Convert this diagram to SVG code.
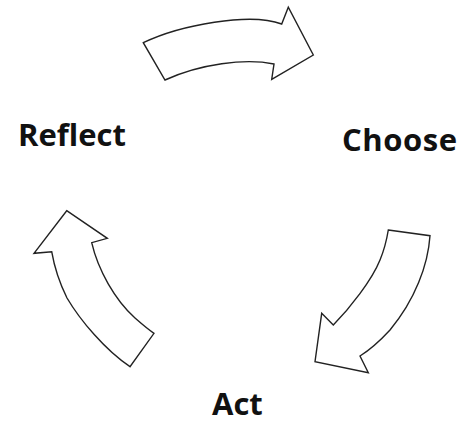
<svg xmlns="http://www.w3.org/2000/svg" width="462" height="424" viewBox="0 0 462 424">
<style>
.arrow{fill:#fff;stroke:#222;stroke-width:1.4;stroke-linejoin:miter}
.label{font-family:"Open Sans","Liberation Sans",sans-serif;font-weight:bold;font-size:31px;fill:#111}
</style>
<rect width="462" height="424" fill="#fff"/>
<g id="connectors">
<path id="arrow-top" class="arrow" d="M143.3,42.7 C180,25 250,12 281.7,24 L288.3,7.3 L313.3,55 L271.7,79.3 L274,64 C245,58 200,64 165,80 Z"/>
<path id="arrow-right" class="arrow" d="M388.3,230 L430,235.7 C428,265 415,300 390,330 C378,343 368,351 360,356 L368.3,372.7 L315,361.7 L321.7,313.3 L333.3,325 C350,308 372,280 380,260 C385,248 387,238 388.3,230 Z"/>
<path id="arrow-left" class="arrow" d="M66.7,210.7 L107.3,238.3 L91.7,242.7 C98,270 115,300 135,318 C143,325 149,330 154,333.3 L130,366.7 C105,350 80,320 67,298 C58,280 54,265 51.7,251.7 L34,253.3 Z"/>
</g>
<g id="node-reflect"><text class="label" x="18" y="146">Reflect</text></g>
<g id="node-choose"><text class="label" x="342" y="151" textLength="115">Choose</text></g>
<g id="node-act"><text class="label" x="212" y="415">Act</text></g>
</svg>
